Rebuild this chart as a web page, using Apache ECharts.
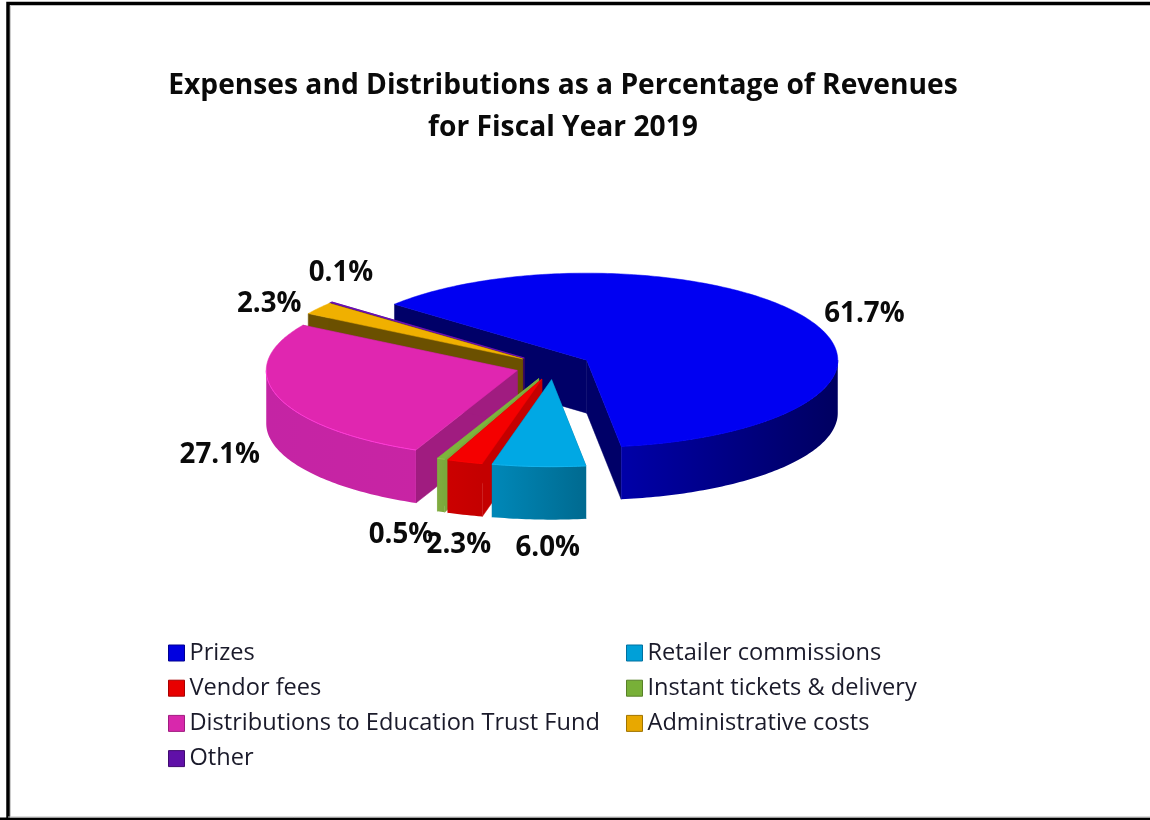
<!DOCTYPE html>
<html>
<head>
<meta charset="utf-8">
<style>html,body{margin:0;padding:0;background:#fff}#c{width:1150px;height:820px;filter:blur(0.45px)}</style>
<script src="https://cdn.jsdelivr.net/npm/echarts@6/dist/echarts.min.js"></script>
</head>
<body>
<div id="c"></div>
<script>
const titleText = 'Expenses and Distributions as a Percentage of Revenues\nfor Fiscal Year 2019';
const categories = ['Prizes','Retailer commissions','Vendor fees','Instant tickets & delivery','Distributions to Education Trust Fund','Administrative costs','Other'];
const values = [61.7, 6.0, 2.3, 0.5, 27.1, 2.3, 0.1];
const valueLabels = ['61.7%','6.0%','2.3%','0.5%','27.1%','2.3%','0.1%'];
const topColors = ['#0000F2','#00A8E4','#F50000','#7DB53C','#E026B0','#F0B000','#6A10B0'];
const wallColors = ['#000068','#006E96','#C40000','#7BA83C','#A01C80','#6B5000','#3A0A60'];
const rimLeft = ['#0000A8','#0088B8','#CC0000','#80AC40','#C424A4','#7A5C00','#40105A'];
const rimRight = ['#000060','#006A90','#C40000','#7BA83C','#C824A4','#7A5C00','#40105A'];
const edgeColors = ['#0000F2','#10B4F0','#FF0000','#8CC248','#FF38D8','#F0B000','#6A10B0'];
const legendIcon = ['#0000E0','#00A0D8','#E80000','#78B038','#D828AC','#E8A800','#6010A8'];
const legendEdge = ['#000090','#0070A0','#A80000','#588028','#A01C80','#A07400','#400A70'];
const leftColumn = [0,2,4,6];
const rightColumn = [1,3,5];
// layout (pixels)
const cx = 553.5, cy = 366.5, rx = 251, ry = 87, depth = 53, explode = 38, startAngle = -50;
const labelNudge = [[58,-3.5],[9,82],[-6,83],[-40,76],[-58,59],[-49,-4],[9.5,-29]];

const total = values.reduce((a,b)=>a+b,0);
function sliceGeom(i){
  let before = 0;
  for(let k=0;k<i;k++) before += values[k];
  const a0 = startAngle + before/total*360;
  const a1 = a0 + values[i]/total*360;
  const mid = (a0+a1)/2, rad = mid*Math.PI/180;
  const ax = cx + explode*Math.sin(rad);
  const ay = cy - explode*Math.cos(rad)*(ry/rx);
  return {a0,a1,mid,ax,ay};
}
function pt(g,deg,dy){
  const r = deg*Math.PI/180;
  return [g.ax + rx*Math.sin(r), g.ay - ry*Math.cos(r) + (dy||0)];
}
function arcPts(g,a,b,dy){
  const out=[]; const n=Math.max(2,Math.ceil(Math.abs(b-a)));
  for(let k=0;k<=n;k++) out.push(pt(g,a+(b-a)*k/n,dy));
  return out;
}
function renderSlice(params, api){
  const i = params.seriesIndex;
  const g = sliceGeom(i);
  const children = [];
  const wall = (deg)=>{
    const p = pt(g,deg);
    children.push({type:'polygon',shape:{points:[[g.ax,g.ay],p,[p[0],p[1]+depth],[g.ax,g.ay+depth]]},
      style:{fill:wallColors[i],stroke:wallColors[i],lineWidth:0.5}});
  };
  wall(g.a0); wall(g.a1);
  // front-facing part of the outer rim
  const a = Math.max(g.a0,90), b = Math.min(g.a1,270);
  if(b>a){
    const up = arcPts(g,a,b,0), down = arcPts(g,a,b,depth).reverse();
    const xs = up.map(p=>p[0]);
    children.push({type:'polygon',shape:{points:up.concat(down)},
      style:{fill:new echarts.graphic.LinearGradient(Math.min(...xs),0,Math.max(...xs),0,
        [{offset:0,color:rimLeft[i]},{offset:1,color:rimRight[i]}],true)}});
  }
  // top face
  const top = [[g.ax,g.ay]].concat(arcPts(g,g.a0,g.a1,0));
  children.push({type:'polygon',shape:{points:top},style:{fill:topColors[i],stroke:topColors[i],lineWidth:i===6?1.2:0.5}});
  // highlight on the front of the top rim
  if(b>a){
    children.push({type:'polyline',shape:{points:arcPts(g,a,b,0)},style:{fill:null,stroke:edgeColors[i],lineWidth:1}});
  }
  // value label
  const e = pt(g,g.mid);
  children.push({type:'text',z2:50,style:{text:valueLabels[i],x:e[0]+labelNudge[i][0],y:e[1]+labelNudge[i][1],
    align:'center',verticalAlign:'middle',fill:'#0a0a0a',font:'bold 27.7px "Open Sans"'}});
  return {type:'group',children};
}
const series = categories.map((name,i)=>({
  type:'custom',name,coordinateSystem:'none',silent:true,animation:false,
  itemStyle:{color:legendIcon[i]},
  renderItem:renderSlice,
  data:[[values[i]]],
  encode:{value:0}
}));
// paint back to front: Prizes, Other, Administrative, Education, Instant, Vendor, Retailer
[[0,2],[6,3],[5,4],[4,5],[3,6],[2,7],[1,8]].forEach(([i,z])=>{series[i].z=z;});

function legendFor(ids,left){
  return {show:true,orient:'vertical',left,top:641,padding:0,itemWidth:16,itemHeight:16,itemGap:11.2,icon:'rect',
    selectedMode:false,
    data:ids.map(k=>({name:categories[k],itemStyle:{color:legendIcon[k],borderColor:legendEdge[k],borderWidth:1}})),
    textStyle:{fontFamily:'"Open Sans"',fontSize:23.6,color:'#1a1a2a',lineHeight:24}};
}
const chart = echarts.init(document.getElementById('c'),null,{renderer:'canvas'});
chart.setOption({
  animation:false,
  backgroundColor:'#fff',
  title:{text:titleText,left:563,top:65,textAlign:'center',padding:0,
    textStyle:{fontFamily:'"Open Sans"',fontWeight:'bold',fontSize:28.2,lineHeight:42,color:'#0a0a0a'}},
  legend:[legendFor(leftColumn,168),legendFor(rightColumn,626)],
  graphic:[
    {type:'polyline',silent:true,shape:{points:[[8,1160],[8,3.5],[1150,3.5]]},style:{fill:null,stroke:'#000',lineWidth:3.5}},
    {type:'line',silent:true,shape:{x1:0,y1:819,x2:1150,y2:819},style:{stroke:'#000',lineWidth:3}},
    {type:'line',silent:true,shape:{x1:8,y1:817,x2:1150,y2:817},style:{stroke:'#bbb',lineWidth:1}},
    {type:'line',silent:true,shape:{x1:10.5,y1:5,x2:10.5,y2:817},style:{stroke:'#ccc',lineWidth:1}}
  ],
  series
});
</script>
</body>
</html>
